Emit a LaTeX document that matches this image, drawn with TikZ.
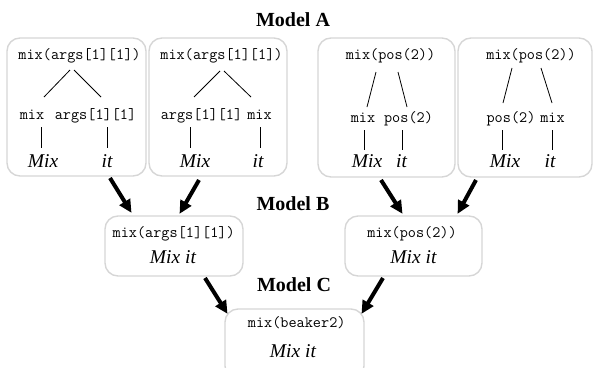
\documentclass[tikz,border=0pt]{standalone}
\usepackage{fontspec}
\setmainfont{Liberation Serif}
\usetikzlibrary{arrows.meta}
\definecolor{boxgray}{RGB}{214,214,214}
\tikzset{
  box/.style={draw=boxgray, line width=1.4pt, rounded corners=13pt, rectangle, inner sep=0pt, outer sep=0pt},
  code/.style={font=\ttfamily\fontsize{15.8}{18}\selectfont, anchor=base, inner sep=0pt},
  word/.style={font=\itshape\fontsize{19.5}{22}\selectfont, anchor=base, inner sep=0pt},
  title/.style={font=\bfseries\fontsize{20}{22}\selectfont, anchor=base, inner sep=0pt},
  tree/.style={line width=0.8pt},
  arr/.style={line width=4pt, -{Triangle[length=13pt,width=12pt]}, shorten >=-1pt},
}
\begin{document}
\begin{tikzpicture}[x=1pt,y=-1pt]
\useasboundingbox (0,0) rectangle (593,367);
% boxes
\node[box, minimum width=139pt, minimum height=138pt] (A1) at (76.5,107) {};
\node[box, minimum width=138pt, minimum height=138pt] (A2) at (218,107) {};
\node[box, minimum width=137pt, minimum height=139pt] (A3) at (386.5,107.5) {};
\node[box, minimum width=134pt, minimum height=139pt] (A4) at (525,107.5) {};
\node[box, minimum width=138pt, minimum height=60pt] (B1) at (174,246) {};
\node[box, minimum width=137pt, minimum height=60pt] (B2) at (413.5,246) {};
\node[box, minimum width=139pt, minimum height=70pt] (C) at (294.5,344) {};
% titles
\node[title] (tA) at (293,26.5) {Model A};
\node[title] (tB) at (293,210.5) {Model B};
\node[title] (tC) at (294,291.5) {Model C};
% box A1
\node[code] (a1r) at (79.5,59) {mix(args[1][1])};
\node[code] (a1m) at (32,119) {mix};
\node[code] (a1a) at (95.5,119) {args[1][1]};
\node[word] (a1x) at (43,167) {Mix};
\node[word] (a1i) at (107,167) {it};
\coordinate (a1p) at (70,70); \coordinate (a1q) at (74,70);
\coordinate (a1u) at (44,97); \coordinate (a1v) at (101,97);
\draw[tree] (a1p) -- (a1u); \draw[tree] (a1q) -- (a1v);
\draw[tree] (41,127) coordinate (a1s) -- (41,148) coordinate (a1t);
\draw[tree] (107,127) coordinate (a1s2) -- (107,148) coordinate (a1t2);
% box A2
\node[code] (a2r) at (221.5,59) {mix(args[1][1])};
\node[code] (a2a) at (201.5,119) {args[1][1]};
\node[code] (a2m) at (259.5,119) {mix};
\node[word] (a2x) at (195,167) {Mix};
\node[word] (a2i) at (258,167) {it};
\coordinate (a2p) at (220,71); \coordinate (a2q) at (224,71);
\coordinate (a2u) at (194,97); \coordinate (a2v) at (251,97);
\draw[tree] (a2p) -- (a2u); \draw[tree] (a2q) -- (a2v);
\draw[tree] (190,127) coordinate (a2s) -- (190,148) coordinate (a2t);
\draw[tree] (260,127) coordinate (a2s2) -- (260,148) coordinate (a2t2);
% box A3
\node[code] (a3r) at (390.5,59) {mix(pos(2))};
\node[code] (a3m) at (363,122) {mix};
\node[code] (a3a) at (408.5,122) {pos(2)};
\node[word] (a3x) at (367,167) {Mix};
\node[word] (a3i) at (401.5,167) {it};
\coordinate (a3p) at (376,72); \coordinate (a3q) at (398,72);
\coordinate (a3u) at (367,107); \coordinate (a3v) at (407,107);
\draw[tree] (a3p) -- (a3u); \draw[tree] (a3q) -- (a3v);
\draw[tree] (364,130) coordinate (a3s) -- (364,150) coordinate (a3t);
\draw[tree] (402,130) coordinate (a3s2) -- (402,150) coordinate (a3t2);
% box A4
\node[code] (a4r) at (531,59) {mix(pos(2))};
\node[code] (a4a) at (511,122) {pos(2)};
\node[code] (a4m) at (552.5,122) {mix};
\node[word] (a4x) at (505,167) {Mix};
\node[word] (a4i) at (550,167) {it};
\coordinate (a4p) at (512,68); \coordinate (a4q) at (541,68);
\coordinate (a4u) at (503,103); \coordinate (a4v) at (552,103);
\draw[tree] (a4p) -- (a4u); \draw[tree] (a4q) -- (a4v);
\draw[tree] (502,130) coordinate (a4s) -- (502,150) coordinate (a4t);
\draw[tree] (552,130) coordinate (a4s2) -- (552,150) coordinate (a4t2);
% box B1, B2, C
\node[code] (b1r) at (173.7,237) {mix(args[1][1])};
\node[word] (b1w) at (173,263) {Mix it};
\node[code] (b2r) at (412,237) {mix(pos(2))};
\node[word] (b2w) at (413.5,263) {Mix it};
\node[code] (cr) at (296.7,327) {mix(beaker2)};
\node[word] (cw) at (293,357) {Mix it};
% arrows
\coordinate (r1s) at (110,178); \coordinate (r1e) at (131,212);
\coordinate (r2s) at (199,180); \coordinate (r2e) at (180,213);
\coordinate (r3s) at (381,180); \coordinate (r3e) at (402,213);
\coordinate (r4s) at (476,180); \coordinate (r4e) at (458,213);
\coordinate (r5s) at (205,278); \coordinate (r5e) at (227,313);
\coordinate (r6s) at (383,278); \coordinate (r6e) at (362,313);
\draw[arr] (r1s) -- (r1e);
\draw[arr] (r2s) -- (r2e);
\draw[arr] (r3s) -- (r3e);
\draw[arr] (r4s) -- (r4e);
\draw[arr] (r5s) -- (r5e);
\draw[arr] (r6s) -- (r6e);
\end{tikzpicture}
\end{document}
